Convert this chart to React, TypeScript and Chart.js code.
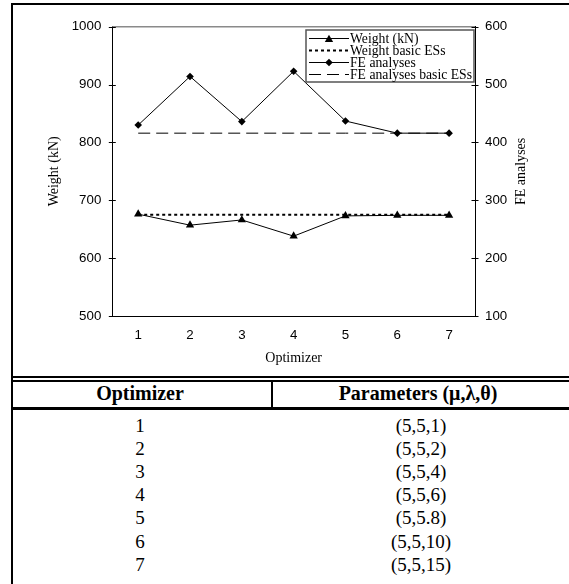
import React, { useEffect, useRef } from "react";
import { Chart, registerables } from "chart.js";

Chart.register(...registerables);

// ---- data ----
const optimizers = ["1", "2", "3", "4", "5", "6", "7"];
const weightKN = [676, 657, 666, 638, 673, 674, 674];
const weightBasicESs = [675, 675, 675, 675, 675, 675, 675];
const feAnalyses = [430, 514, 436, 523, 437, 416, 416];
const feAnalysesBasicESs = [416, 416, 416, 416, 416, 416, 416];
const weightAxisRange = [500, 1000];
const feAxisRange = [100, 600];
const tickStep = 100;
const tableHeaders = ["Optimizer", "Parameters (\u03bc,\u03bb,\u03b8)"];
const parameters = ["(5,5,1)", "(5,5,2)", "(5,5,4)", "(5,5,6)", "(5,5.8)", "(5,5,10)", "(5,5,15)"];

const SERIF = '"Liberation Serif", "Times New Roman", Times, serif';
const SANS = '"Liberation Sans", Arial, Helvetica, sans-serif';
const TICK_SIZE = 13.3;

function drawMarker(ctx: CanvasRenderingContext2D, style: string, x: number, y: number, r: number) {
  ctx.beginPath();
  if (style === "triangle") {
    ctx.moveTo(x, y - r);
    ctx.lineTo(x + 0.866 * r, y + r / 2);
    ctx.lineTo(x - 0.866 * r, y + r / 2);
  } else if (style === "rectRot") {
    ctx.moveTo(x - r, y);
    ctx.lineTo(x, y - r);
    ctx.lineTo(x + r, y);
    ctx.lineTo(x, y + r);
  } else {
    return;
  }
  ctx.closePath();
  ctx.fillStyle = "#000";
  ctx.fill();
}

const framePlugin = {
  id: "frameExtras",
  afterDraw(chart: any) {
    const { ctx, chartArea: ca, scales } = chart;
    ctx.save();
    // top gray frame line
    ctx.strokeStyle = "#8a8a8a";
    ctx.lineWidth = 1.5;
    ctx.beginPath();
    ctx.moveTo(ca.left, ca.top);
    ctx.lineTo(ca.right, ca.top);
    ctx.stroke();
    // crossing tick marks on both value axes
    ctx.strokeStyle = "#000";
    ctx.lineWidth = 1;
    const sides: [string, number][] = [["y", ca.left], ["y1", ca.right]];
    sides.forEach(([id, ax]) => {
      const s = scales[id];
      s.ticks.forEach((t: any) => {
        const py = Math.round(s.getPixelForValue(t.value)) + 0.5;
        ctx.beginPath();
        ctx.moveTo(ax - 3.5, py);
        ctx.lineTo(ax + 3.5, py);
        ctx.stroke();
      });
    });
    // right axis title (reads bottom to top)
    ctx.fillStyle = "#000";
    ctx.font = `14px ${SERIF}`;
    ctx.textAlign = "center";
    ctx.textBaseline = "middle";
    ctx.translate(508.5, (ca.top + ca.bottom) / 2);
    ctx.rotate(-Math.PI / 2);
    ctx.fillText("FE analyses", 0, 0);
    ctx.restore();

    // legend box
    ctx.save();
    const w = 168;
    const h = 52;
    const x0 = ca.right - 169;
    const y0 = ca.top + 3.3;
    ctx.fillStyle = "#fff";
    ctx.fillRect(x0, y0, w, h);
    ctx.strokeStyle = "#555";
    ctx.lineWidth = 1.5;
    ctx.strokeRect(x0, y0, w, h);
    chart.data.datasets.forEach((ds: any, i: number) => {
      const y = y0 + 8.5 + i * 12;
      ctx.beginPath();
      ctx.setLineDash(ds.borderDash || []);
      ctx.lineWidth = ds.borderWidth;
      ctx.strokeStyle = "#000";
      ctx.moveTo(x0 + 3, y);
      ctx.lineTo(x0 + 43, y);
      ctx.stroke();
      ctx.setLineDash([]);
      if (ds.pointRadius > 0) drawMarker(ctx, ds.pointStyle, x0 + 23, y + (ds.pointStyle === "triangle" ? 1 : 0), ds.pointRadius);
      ctx.fillStyle = "#000";
      ctx.font = `13.7px ${SERIF}`;
      ctx.textAlign = "left";
      ctx.textBaseline = "middle";
      ctx.fillText(ds.label, x0 + 44, y + 0.5);
    });
    ctx.restore();
  },
};

const plainTick = (v: any) => String(v);

export default function App() {
  const ref = useRef<HTMLCanvasElement>(null);

  useEffect(() => {
    if (!ref.current) return;
    const chart = new Chart(ref.current, {
      type: "line",
      data: {
        labels: optimizers,
        datasets: [
          {
            label: "Weight (kN)",
            data: weightKN,
            yAxisID: "y",
            borderColor: "#000",
            backgroundColor: "#000",
            borderWidth: 1,
            pointStyle: "triangle",
            pointRadius: 4.8,
            pointBorderWidth: 0,
            pointBackgroundColor: "#000",
            tension: 0,
          },
          {
            label: "Weight basic ESs",
            data: weightBasicESs,
            yAxisID: "y",
            borderColor: "#000",
            borderWidth: 2,
            borderDash: [3, 3],
            pointRadius: 0,
            tension: 0,
          },
          {
            label: "FE analyses",
            data: feAnalyses,
            yAxisID: "y1",
            borderColor: "#000",
            backgroundColor: "#000",
            borderWidth: 1,
            pointStyle: "rectRot",
            pointRadius: 3.8,
            pointBorderWidth: 0,
            pointBackgroundColor: "#000",
            tension: 0,
          },
          {
            label: "FE analyses basic ESs",
            data: feAnalysesBasicESs,
            yAxisID: "y1",
            borderColor: "#000",
            borderWidth: 1,
            borderDash: [12, 6],
            pointRadius: 0,
            tension: 0,
          },
        ],
      },
      options: {
        responsive: false,
        animation: false,
        devicePixelRatio: 1,
        layout: { padding: { top: 21.7, left: 0, right: 0, bottom: 0 } },
        plugins: { legend: { display: false }, tooltip: { enabled: false } },
        scales: {
          x: {
            type: "category",
            offset: true,
            grid: { display: false, drawTicks: false },
            border: { display: true, color: "#000", width: 1 },
            ticks: { padding: 11.5, color: "#000", font: { family: SANS, size: TICK_SIZE } },
            title: {
              display: true,
              text: "Optimizer",
              color: "#000",
              font: { family: SERIF, size: 14 },
              padding: { top: 0, bottom: 9 },
            },
            afterFit: (s: any) => {
              s.height = 60;
            },
          },
          y: {
            position: "left",
            min: weightAxisRange[0],
            max: weightAxisRange[1],
            grid: { display: false, drawTicks: false },
            border: { display: true, color: "#000", width: 1 },
            ticks: { stepSize: tickStep, padding: 11, color: "#000", font: { family: SANS, size: TICK_SIZE }, callback: plainTick },
            title: {
              display: true,
              text: "Weight (kN)",
              color: "#000",
              font: { family: SERIF, size: 14 },
              padding: { top: 32.6, bottom: 0 },
            },
            afterFit: (s: any) => {
              s.width = 99.3;
            },
          },
          y1: {
            position: "right",
            min: feAxisRange[0],
            max: feAxisRange[1],
            grid: { display: false, drawTicks: false },
            border: { display: true, color: "#000", width: 1 },
            ticks: { stepSize: tickStep, padding: 10, color: "#000", font: { family: SANS, size: TICK_SIZE }, callback: plainTick },
            afterFit: (s: any) => {
              s.width = 94;
            },
          },
        },
      },
      plugins: [framePlugin],
    } as any);
    return () => chart.destroy();
  }, []);

  const line = (style: React.CSSProperties) => (
    <div style={{ position: "absolute", background: "#000", ...style }} />
  );

  return (
    <div
      style={{
        position: "absolute",
        left: 0,
        top: 0,
        width: 569,
        height: 584,
        overflow: "hidden",
        background: "#fff",
      }}
    >
      {line({ left: 11, top: 3, width: 600, height: 2 })}
      {line({ left: 11, top: 3, width: 2, height: 600 })}
      <canvas ref={ref} width={556} height={371} style={{ position: "absolute", left: 13, top: 5, width: 556, height: 371 }} />
      {line({ left: 11, top: 376, width: 600, height: 2 })}
      {line({ left: 11, top: 380, width: 600, height: 2 })}
      {line({ left: 271, top: 381, width: 2, height: 27 })}
      {line({ left: 11, top: 407, width: 600, height: 3 })}
      <div
        style={{
          position: "absolute",
          left: 11,
          top: 381,
          width: 258,
          height: 25,
          lineHeight: "25px",
          textAlign: "center",
          fontFamily: SERIF,
          fontWeight: "bold",
          fontSize: 20,
          color: "#000",
        }}
      >
        {tableHeaders[0]}
      </div>
      <div
        style={{
          position: "absolute",
          left: 272,
          top: 381,
          width: 292,
          height: 25,
          lineHeight: "25px",
          textAlign: "center",
          fontFamily: SERIF,
          fontWeight: "bold",
          fontSize: 20,
          color: "#000",
          whiteSpace: "nowrap",
        }}
      >
        {tableHeaders[1]}
      </div>
      {optimizers.map((o, i) => (
        <React.Fragment key={o}>
          <div
            style={{
              position: "absolute",
              left: 11,
              top: 414 + i * 23.1,
              width: 258,
              height: 23,
              lineHeight: "23px",
              textAlign: "center",
              fontFamily: SERIF,
              fontSize: 19,
              color: "#000",
            }}
          >
            {o}
          </div>
          <div
            style={{
              position: "absolute",
              left: 272,
              top: 414 + i * 23.1,
              width: 298,
              height: 23,
              lineHeight: "23px",
              textAlign: "center",
              fontFamily: SERIF,
              fontSize: 19,
              color: "#000",
              whiteSpace: "nowrap",
            }}
          >
            {parameters[i]}
          </div>
        </React.Fragment>
      ))}
    </div>
  );
}
